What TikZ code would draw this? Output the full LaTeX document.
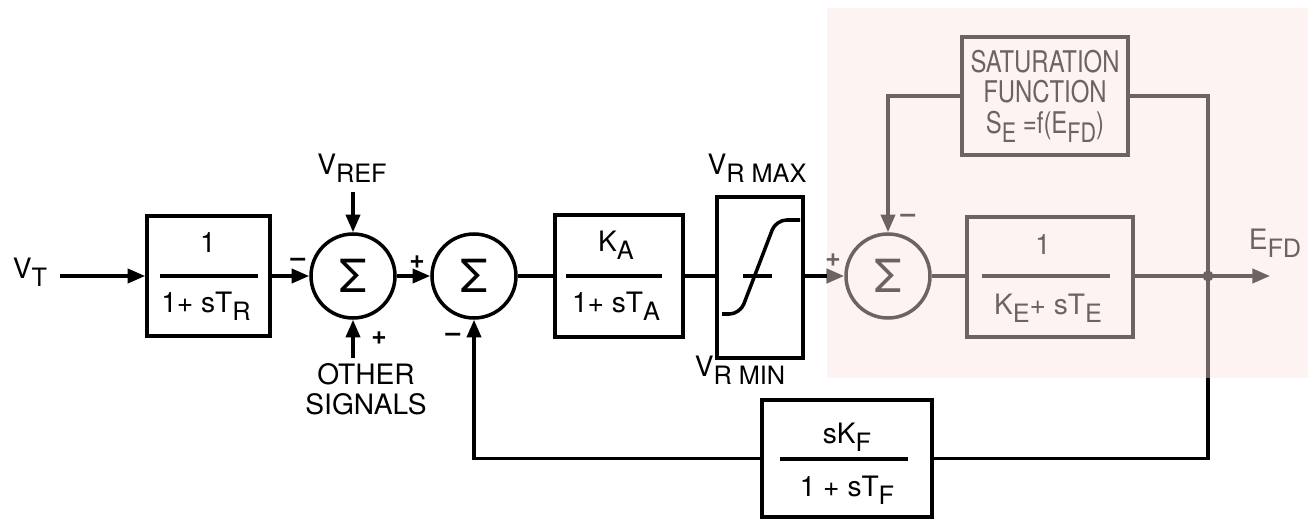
\documentclass[tikz,border=0pt]{standalone}
\usepackage{fontspec}
\usepackage{graphicx}
\setmainfont{TeX Gyre Heros}
\newfontfamily\narrowfont[FakeStretch=0.8]{TeX Gyre Heros}
\usetikzlibrary{arrows.meta}
\definecolor{hilite}{RGB}{250,227,227}
\newcommand{\lo}[1]{\raisebox{-0.55ex}{\scalebox{0.9}{#1}}}

\begin{document}
\begin{tikzpicture}[x=0.2mm,y=-0.2mm,line width=2pt,
  blk/.style={draw,rectangle,inner sep=0pt},
  sumnode/.style={draw,circle,minimum size=16.8mm,inner sep=0pt,font=\fontsize{26}{26}\selectfont},
  lbl/.style={font=\fontsize{16}{17}\selectfont,inner sep=0pt},
  frc/.style={font=\fontsize{16}{17}\selectfont,inner sep=0pt},
  sgn/.style={font=\fontsize{15}{15}\selectfont\bfseries,inner sep=0pt},
  arr/.style={-{Triangle[length=10pt,width=8pt]}}]
  \useasboundingbox (0,0) rectangle (1308,519);
  % blocks
  \node[blk,minimum width=24.6mm,minimum height=24mm] (tr) at (208.5,276) {};
  \node[sumnode] (sum1) at (353,276) {Σ};
  \node[sumnode] (sum2) at (474,276) {Σ};
  \node[blk,minimum width=25.6mm,minimum height=24.4mm] (ka) at (619,276) {};
  \node[blk,minimum width=17.2mm,minimum height=32.2mm] (lim) at (760,277.5) {};
  \node[sumnode] (sum3) at (888,276) {Σ};
  \node[blk,minimum width=33.2mm,minimum height=24mm] (ke) at (1050,277) {};
  \node[blk,minimum width=33.2mm,minimum height=23.6mm,align=center,
    font=\fontsize{17}{17.5}\narrowfont] (sat) at (1045,96)
    {SATURATION\\FUNCTION\\S\lo{E} =f(E\lo{FD})};
  \node[blk,minimum width=34mm,minimum height=23.4mm] (kf) at (847,458.5) {};
  % fractions
  \node[frc] (trn) at (208,243) {1};
  \node[frc] (trd) at (206,306) {1+ sT\lo{R}};
  \draw (160,276) -- (258,276);
  \node[frc] (kan) at (616,245) {K\lo{A}};
  \node[frc] (kad) at (616,306) {1+ sT\lo{A}};
  \draw (566,276) -- (662,276);
  \node[frc] (ken) at (1043,245) {1};
  \node[frc] (ked) at (1048,308) {K\lo{E}+ sT\lo{E}};
  \draw (982,276) -- (1110,276);
  \node[frc] (kfn) at (847,437) {sK\lo{F}};
  \node[frc] (kfd) at (847,490) {1 + sT\lo{F}};
  \draw (780,459) -- (908,459);
  % limiter curve
  \draw[rounded corners=6pt] (722,314) -- (740,314) -- (776,220) -- (800,220);
  \draw (743,276) -- (772,276);
  % labels
  \node[lbl] (vt) at (30,272) {V\lo{T}};
  \node[lbl] (vref) at (352,168) {V\lo{REF}};
  \node[lbl,align=center] (oth) at (366,389) {OTHER\\SIGNALS};
  \node[lbl] (vmax) at (757,168) {V\lo{R MAX}};
  \node[lbl] (vmin) at (740,370) {V\lo{R MIN}};
  \node[lbl] (efdl) at (1275,243) {E\lo{FD}};
  \node[sgn] (s1a) at (298,262) {--};
  \node[sgn] (s1b) at (379,338) {+};
  \node[sgn] (s2a) at (417,262) {+};
  \node[sgn] (s2b) at (453,337) {--};
  \node[sgn] (s3a) at (833,260) {+};
  \node[sgn] (s3b) at (908,218) {--};
  % connectors
  \coordinate (vtin) at (60,276);
  \coordinate (vrefin) at (353,192);
  \coordinate (othin) at (353,358);
  \coordinate (jn) at (1208,276);
  \coordinate (efd) at (1270,276);
  \draw[arr] (vtin) -- (tr.west);
  \draw[arr] (tr.east) -- (sum1.west);
  \draw[arr] (vrefin) -- (sum1.north);
  \draw[arr] (othin) -- (sum1.south);
  \draw[arr] (sum1.east) -- (sum2.west);
  \draw (sum2.east) -- (ka.west);
  \draw (ka.east) -- (lim.west |- ka.east);
  \draw[arr] (lim.east |- sum3.west) -- (sum3.west);
  \draw (sum3.east) -- (ke.west |- sum3.east);
  \draw[arr] (ke.east |- jn) -- (efd);
  \fill (jn) circle (1.1mm);
  \draw (jn) |- (sat.east);
  \draw[arr] (sat.west) -| (sum3.north);
  \draw (jn) |- (kf.east);
  \draw[arr] (kf.west) -| (sum2.south);
  % highlight
  \fill[hilite,fill opacity=0.44] (827,8) rectangle (1308,378);
\end{tikzpicture}
\end{document}
